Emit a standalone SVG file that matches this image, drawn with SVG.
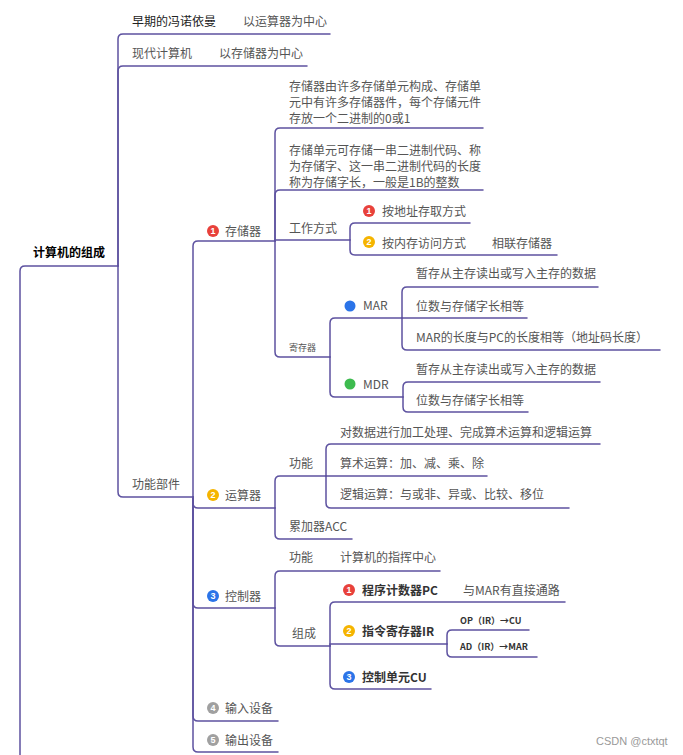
<svg xmlns="http://www.w3.org/2000/svg" width="683" height="755" viewBox="0 0 683 755">
<style>
.c{fill:none;stroke:#5d52a0;stroke-width:1.5;stroke-linecap:round}
text{font-family:"Noto Sans CJK SC","Liberation Sans",sans-serif;font-size:12px;fill:#555}
.dk{fill:#222}
.b{font-weight:bold;fill:#333}
.root{font-weight:bold;fill:#000}
.sm{font-size:9px}
.ic{font-size:9px;font-weight:bold;fill:#fff;text-anchor:middle;font-family:"Liberation Sans",sans-serif}
.wm{font-family:"Liberation Sans",sans-serif;font-size:11px;fill:#999}
</style>
<rect width="683" height="755" fill="#fff"/>
<g id="connectors">
<path class="c" d="M20,755 V271 Q20,266 25,266 H118"/>
<path class="c" d="M118,266 V39 Q118,34 123,34 H330"/>
<path class="c" d="M118,266 V71 Q118,66 123,66 H307"/>
<path class="c" d="M118,266 V492 Q118,497 123,497 H193"/>
<path class="c" d="M193,497 V246 Q193,241 198,241 H275"/>
<path class="c" d="M193,497 V503 Q193,508 198,508 H275"/>
<path class="c" d="M193,497 V603 Q193,608 198,608 H275"/>
<path class="c" d="M193,497 V716 Q193,721 198,721 H278"/>
<path class="c" d="M193,497 V747 Q193,752 198,752 H278"/>
<path class="c" d="M275,241 V133 Q275,128 280,128 H483"/>
<path class="c" d="M275,241 V195 Q275,190 280,190 H483"/>
<path class="c" d="M275,241 V240 H350"/>
<path class="c" d="M275,241 V352 Q275,357 280,357 H330"/>
<path class="c" d="M350,240 V228 Q350,223 355,223 H470"/>
<path class="c" d="M350,240 V250 Q350,255 355,255 H557"/>
<path class="c" d="M330,357 V323 Q330,318 335,318 H402"/>
<path class="c" d="M330,357 V392 Q330,397 335,397 H403"/>
<path class="c" d="M402,318 V292 Q402,287 407,287 H598"/>
<path class="c" d="M402,318 H527"/>
<path class="c" d="M402,318 V345 Q402,350 407,350 H660"/>
<path class="c" d="M403,397 V387 Q403,382 408,382 H600"/>
<path class="c" d="M403,397 V407 Q403,412 408,412 H528"/>
<path class="c" d="M275,508 V481 Q275,476 280,476 H326"/>
<path class="c" d="M275,508 V534 Q275,539 280,539 H352"/>
<path class="c" d="M326,476 V449 Q326,444 331,444 H600"/>
<path class="c" d="M326,476 H487"/>
<path class="c" d="M326,476 V503 Q326,508 331,508 H569"/>
<path class="c" d="M275,608 V576 Q275,571 280,571 H440"/>
<path class="c" d="M275,608 V641 Q275,646 280,646 H330"/>
<path class="c" d="M330,646 V607 Q330,602 335,602 H565"/>
<path class="c" d="M330,646 V644 H447"/>
<path class="c" d="M330,646 V684 Q330,689 335,689 H431"/>
<path class="c" d="M447,644 V635 Q447,630 452,630 H529"/>
<path class="c" d="M447,644 V652 Q447,657 452,657 H537"/>
</g>
<g id="root"><text class="root" x="33" y="257">计算机的组成</text></g>
<g id="early"><text class="dk" x="132" y="26">早期的冯诺依曼</text><text x="243" y="26">以运算器为中心</text></g>
<g id="modern"><text x="132" y="58">现代计算机</text><text x="219" y="58">以存储器为中心</text></g>
<g id="parts"><text x="132" y="489">功能部件</text></g>
<g id="memory"><circle cx="213" cy="231" r="6" fill="#e8413b"/><text class="ic" x="213" y="234.3">1</text><text x="225" y="236">存储器</text></g>
<g id="mem-desc1"><text x="289" y="91">存储器由许多存储单元构成、存储单</text><text x="289" y="107">元中有许多存储器件，每个存储元件</text><text x="289" y="123">存放一个二进制的0或1</text></g>
<g id="mem-desc2"><text x="289" y="155">存储单元可存储一串二进制代码、称</text><text x="289" y="171">为存储字、这一串二进制代码的长度</text><text x="289" y="187">称为存储字长，一般是1B的整数</text></g>
<g id="workmode"><text x="289" y="233">工作方式</text></g>
<g id="addr-access"><circle cx="369" cy="211" r="6" fill="#e8413b"/><text class="ic" x="369" y="214.3">1</text><text x="382" y="216">按地址存取方式</text></g>
<g id="content-access"><circle cx="369" cy="242" r="6" fill="#f5b400"/><text class="ic" x="369" y="245.3">2</text><text x="382" y="248">按内存访问方式</text><text x="492" y="248">相联存储器</text></g>
<g id="register"><text class="sm" x="289" y="351">寄存器</text></g>
<g id="mar"><circle cx="350" cy="306" r="5.5" fill="#2b74e8"/><text x="363" y="310">MAR</text></g>
<g id="mar1"><text x="416" y="278">暂存从主存读出或写入主存的数据</text></g>
<g id="mar2"><text x="416" y="311">位数与存储字长相等</text></g>
<g id="mar3"><text x="416" y="342">MAR的长度与PC的长度相等（地址码长度）</text></g>
<g id="mdr"><circle cx="350" cy="384" r="5.5" fill="#3dbb4f"/><text x="363" y="389">MDR</text></g>
<g id="mdr1"><text x="416" y="374">暂存从主存读出或写入主存的数据</text></g>
<g id="mdr2"><text x="416" y="405">位数与存储字长相等</text></g>
<g id="alu"><circle cx="213" cy="495" r="6" fill="#f5b400"/><text class="ic" x="213" y="498.3">2</text><text x="225" y="500">运算器</text></g>
<g id="alu-func"><text x="289" y="468">功能</text></g>
<g id="alu-f1"><text x="340" y="437">对数据进行加工处理、完成算术运算和逻辑运算</text></g>
<g id="alu-f2"><text x="340" y="468">算术运算：加、减、乘、除</text></g>
<g id="alu-f3"><text x="340" y="499">逻辑运算：与或非、异或、比较、移位</text></g>
<g id="acc"><text x="289" y="531">累加器ACC</text></g>
<g id="cu-unit"><circle cx="213" cy="596" r="6" fill="#2b74e8"/><text class="ic" x="213" y="599.3">3</text><text x="225" y="601">控制器</text></g>
<g id="cu-func"><text x="289" y="562">功能</text><text x="340" y="562">计算机的指挥中心</text></g>
<g id="cu-comp"><text x="292" y="638">组成</text></g>
<g id="pc"><circle cx="349" cy="590" r="6" fill="#e8413b"/><text class="ic" x="349" y="593.3">1</text><text class="b" x="362" y="595">程序计数器PC</text><text x="463" y="595">与MAR有直接通路</text></g>
<g id="ir"><circle cx="349" cy="631" r="6" fill="#f5b400"/><text class="ic" x="349" y="634.3">2</text><text class="b" x="362" y="636">指令寄存器IR</text></g>
<g id="op"><text class="sm b" x="460" y="624">OP（IR）→CU</text></g>
<g id="ad"><text class="sm b" x="460" y="650">AD（IR）→MAR</text></g>
<g id="cu"><circle cx="349" cy="677" r="6" fill="#2b74e8"/><text class="ic" x="349" y="680.3">3</text><text class="b" x="362" y="682">控制单元CU</text></g>
<g id="input"><circle cx="213" cy="708" r="6" fill="#a0a0a0"/><text class="ic" x="213" y="711.3">4</text><text x="225" y="713">输入设备</text></g>
<g id="output"><circle cx="213" cy="740" r="6" fill="#a0a0a0"/><text class="ic" x="213" y="743.3">5</text><text x="225" y="745">输出设备</text></g>
<text class="wm" x="596" y="745">CSDN @ctxtqt</text>
</svg>
